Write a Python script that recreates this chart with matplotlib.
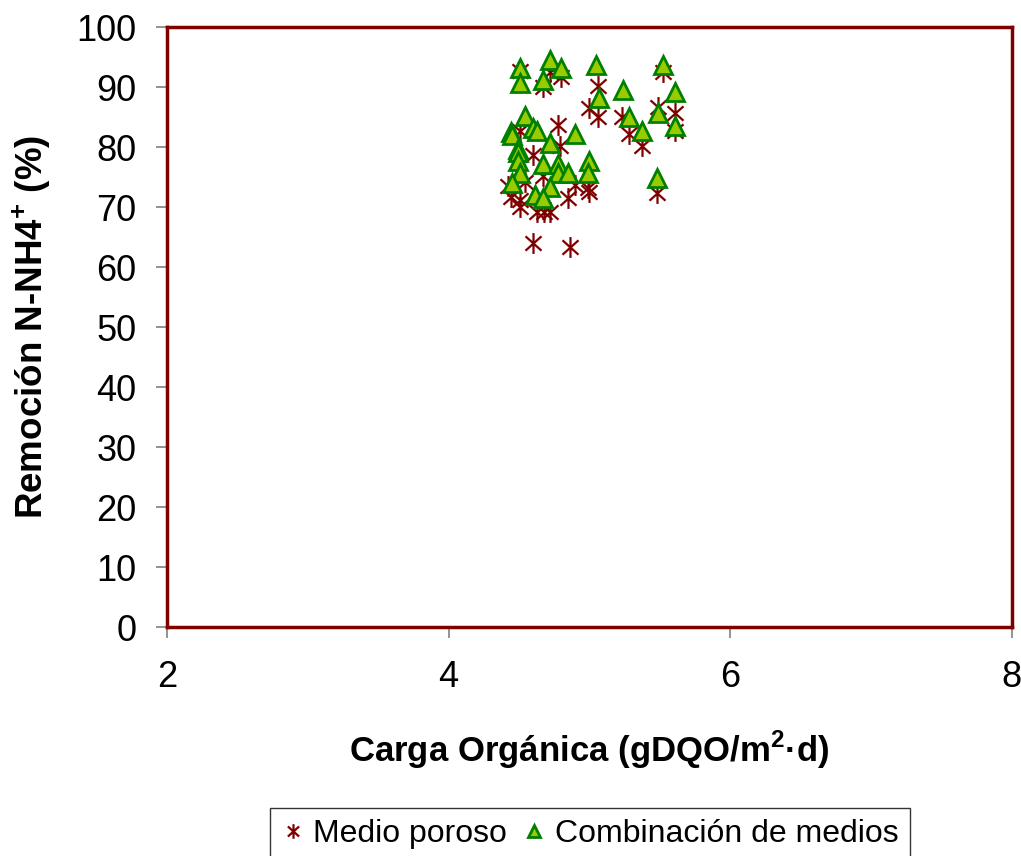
import matplotlib.pyplot as plt
from matplotlib.path import Path

plt.rcParams['font.family'] = ['Liberation Sans', 'DejaVu Sans']
plt.rcParams['mathtext.fontset'] = 'custom'
plt.rcParams['mathtext.rm'] = 'Liberation Sans'
plt.rcParams['mathtext.bf'] = 'Liberation Sans:bold'

# Medio poroso
poroso_x = [4.51, 4.72, 4.80, 4.67, 5.06, 5.00, 5.06, 4.51, 4.78, 4.79, 4.60, 4.67,
            4.90, 4.99, 4.54, 4.42, 4.44, 4.51, 4.51, 4.85, 4.63, 4.68, 4.72, 4.60,
            4.86, 5.52, 5.49, 5.61, 5.23, 5.28, 5.37, 5.00, 5.48, 5.61]
poroso_y = [92.8, 92.5, 91.7, 90.0, 90.3, 86.5, 85.0, 82.8, 83.7, 80.3, 78.7, 75.3,
            73.7, 73.2, 74.2, 73.5, 71.7, 71.2, 70.0, 71.5, 69.2, 69.2, 69.2, 64.0,
            63.3, 92.5, 86.8, 85.7, 85.0, 82.3, 80.3, 72.5, 72.3, 82.8]

# Combinacion de medios
comb_x = [4.51, 4.51, 4.72, 4.80, 4.67, 5.05, 5.07, 4.54, 4.44, 4.45, 4.60, 4.63,
          4.90, 4.72, 4.49, 5.00, 4.49, 4.49, 4.67, 4.78, 4.78, 4.85, 4.99, 4.51,
          4.45, 4.61, 4.72, 4.67, 5.24, 5.52, 5.61, 5.49, 5.28, 5.37, 5.61, 5.48]
comb_y = [93.3, 90.8, 94.5, 93.3, 91.2, 93.7, 88.3, 85.3, 82.5, 82.0, 83.2, 82.8,
          82.3, 80.8, 79.8, 77.8, 79.2, 77.8, 77.3, 77.3, 75.8, 75.8, 75.7, 75.7,
          74.0, 72.0, 73.3, 71.5, 89.5, 93.7, 89.2, 85.7, 85.0, 82.7, 83.5, 74.8]

x_ticks = [2, 4, 6, 8]
y_ticks = list(range(0, 101, 10))

dark_red = '#800000'

# asterisk: an X plus a longer vertical bar
star = Path([(-1, -0.9), (1, 0.9), (-1, 0.9), (1, -0.9), (0, -1.3), (0, 1.3)],
            [Path.MOVETO, Path.LINETO, Path.MOVETO, Path.LINETO, Path.MOVETO, Path.LINETO])

fig = plt.figure(figsize=(10.21, 8.56), dpi=100)
ax = fig.add_axes([0.1636, 0.2675, 0.8274, 0.7005])

ax.plot(poroso_x, poroso_y, linestyle='none', marker=star, markersize=15,
        markeredgecolor=dark_red, markerfacecolor='none', markeredgewidth=1.6,
        label='Medio poroso')
ax.plot(comb_x, comb_y, linestyle='none', marker='^', markersize=12.5,
        markeredgecolor='#008000', markerfacecolor='#99CC00', markeredgewidth=2,
        label='Combinación de medios')

ax.set_xlim(2, 8)
ax.set_ylim(0, 100)
ax.set_xticks(x_ticks)
ax.set_yticks(y_ticks)
ax.tick_params(axis='both', direction='out', length=8, width=1.2, color='#808080',
               labelsize=26, pad=14)
ax.tick_params(axis='x', pad=16)

for sp in ax.spines.values():
    sp.set_color(dark_red)
    sp.set_linewidth(2.5)

ax.set_ylabel(r'Remoción N-NH4$^\mathbf{+}$ (%)', fontsize=26.5,
              fontweight='bold', labelpad=17)
ax.set_xlabel(r'Carga Orgánica (gDQO/m$^\mathbf{2}$·d)', fontsize=25,
              fontweight='bold', labelpad=24)

leg = fig.legend(loc='center', bbox_to_anchor=(0.578, 0.026), ncol=2,
                 fontsize=23, frameon=True, fancybox=False, handlelength=0.7,
                 handletextpad=0.3, columnspacing=0.5, borderpad=0.35, markerscale=0.7)
leg.get_frame().set_edgecolor('black')
leg.get_frame().set_linewidth(1)

fig.savefig('out.png', dpi=100)
